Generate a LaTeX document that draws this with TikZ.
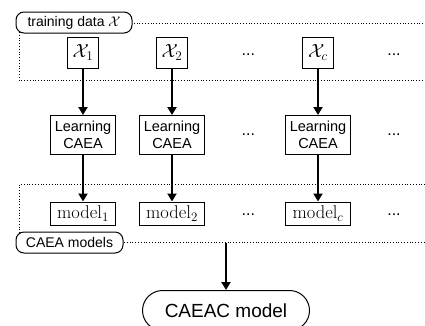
\documentclass[tikz,border=0pt]{standalone}
\usepackage[no-math]{fontspec}
\setmainfont{Liberation Sans}
\usepackage{fix-cm}
\usetikzlibrary{arrows.meta}
\begin{document}
\begin{tikzpicture}[x=1pt,y=-1pt,
  box/.style={draw,line width=1pt,inner sep=0pt,fill=white},
  databox/.style={box,minimum width=31pt,minimum height=31pt,font=\fontsize{19}{21}\selectfont},
  learnbox/.style={box,minimum width=65pt,minimum height=39pt,align=center,font=\fontsize{14.5}{17.5}\selectfont},
  modelbox/.style={box,minimum width=65pt,minimum height=23pt,font=\fontsize{18.5}{20}\selectfont},
  tag/.style={draw,rounded corners=8pt,fill=white,line width=1pt,inner sep=0pt,
              minimum height=21pt,font=\fontsize{14}{16}\selectfont},
  dots/.style={anchor=base,inner sep=0pt,font=\fontsize{16}{18}\selectfont},
  group/.style={dotted,line width=0.8pt},
  flow/.style={line width=2pt,-{Triangle[length=8pt,width=9pt]}}
]
\clip (0,0) rectangle (425,325);
\useasboundingbox (0,0) rectangle (425,325);

% dotted group frames
\draw[group] (19.5,23.5) rectangle (440,80.5);
\draw[group] (19.5,184.5) rectangle (440,242.5);

% group labels
\node[tag,minimum width=116pt] (datatag) at (74,22.5) {training data $\mathcal{X}$};
\node[tag,minimum width=107pt] (modeltag) at (69.5,242.5) {CAEA models};

% data subsets
\node[databox] (x1) at (83,52.5) {$\mathcal{X}_1$};
\node[databox] (x2) at (172,52.5) {$\mathcal{X}_2$};
\node[databox] (xc) at (318,52.5) {$\mathcal{X}_c$};
\node[dots] (xd1) at (248.3,55.5) {...};
\node[dots] (xd2) at (394,55.5) {...};

% learning steps
\node[learnbox] (l1) at (83,135) {Learning\\CAEA};
\node[learnbox] (l2) at (172,135) {Learning\\CAEA};
\node[learnbox] (lc) at (318,135) {Learning\\CAEA};
\node[dots] (ld1) at (248.3,135.7) {...};
\node[dots] (ld2) at (394,135.7) {...};

% trained models
\node[modelbox] (m1) at (83,213.5) {$\mathrm{model}_1$};
\node[modelbox] (m2) at (172,213.5) {$\mathrm{model}_2$};
\node[modelbox] (mc) at (318,213.5) {$\mathrm{model}_c$};
\node[dots] (md1) at (248.3,215.7) {...};
\node[dots] (md2) at (394,215.7) {...};

% combined model
\node[draw,line width=1pt,rounded corners=20pt,minimum width=167pt,minimum height=40pt,
      inner sep=0pt,font=\fontsize{19}{21}\selectfont] (caeac) at (226,310.5) {CAEAC model};
\coordinate (mout) at (226,242.5);

% flows
\draw[flow] (x1) -- (l1);
\draw[flow] (x2) -- (l2);
\draw[flow] (xc) -- (lc);
\draw[flow] (l1) -- (m1);
\draw[flow] (l2) -- (m2);
\draw[flow] (lc) -- (mc);
\draw[flow] (mout) -- (caeac);
\end{tikzpicture}
\end{document}
